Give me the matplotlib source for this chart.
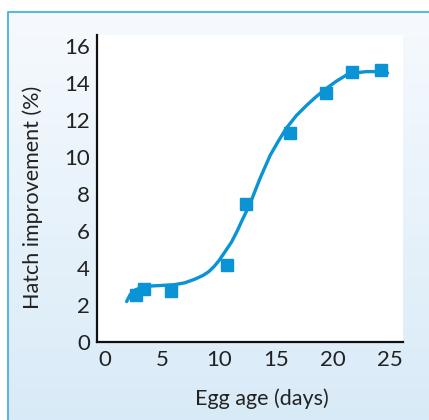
import numpy as np
import matplotlib.pyplot as plt

# measured points (egg age in days, hatch improvement in %)
edad = [2.7, 3.4, 5.8, 10.7, 12.4, 16.2, 19.4, 21.7, 24.2]
mejora = [2.55, 2.84, 2.78, 4.14, 7.45, 11.3, 13.47, 14.6, 14.7]

# fitted curve
curva_x = [1.9, 2.2, 2.6, 3.2, 3.8, 5.0, 6.1, 7.0, 7.9, 8.6, 9.1, 9.6, 10.0, 10.5,
           11.1, 11.6, 12.1, 12.6, 13.0, 13.6, 14.5, 15.2, 15.9, 16.8, 17.7, 18.5,
           19.4, 20.3, 21.2, 22.0, 22.9, 23.8, 24.8]
curva_y = [2.19, 2.55, 2.8, 2.95, 3.02, 3.06, 3.1, 3.2, 3.4, 3.6, 3.8, 4.1, 4.4, 4.85,
           5.4, 6.0, 6.67, 7.3, 7.9, 8.84, 10.1, 10.85, 11.55, 12.25, 12.8, 13.25,
           13.7, 14.1, 14.44, 14.55, 14.62, 14.62, 14.55]

xticks = [0, 5, 10, 15, 20, 25]
yticks = [0, 2, 4, 6, 8, 10, 12, 14, 16]

azul = '#0a93d5'
plt.rcParams['font.family'] = ['Lato', 'DejaVu Sans']

fig = plt.figure(figsize=(4.29, 4.2), dpi=100)

# fondo degradado del panel
W, H = 429, 420
fondo = fig.add_axes([0, 0, 1, 1], zorder=-10)
grad = np.linspace(0, 1, 256).reshape(-1, 1)
c_top = np.array([0.965, 0.98, 0.995])
c_bot = np.array([0.85, 0.92, 0.97])
img = c_top + (c_bot - c_top) * grad[:, :, None] * np.ones((1, 2, 1))
x0 = 8 / W
fondo.imshow(img, extent=[x0, 1, 0, 1 - 12 / H], aspect='auto', origin='upper')
fondo.plot([x0, x0, 1], [0, 1 - 12 / H, 1 - 12 / H], color='#5cb6e4', lw=1.5)
fondo.set_xlim(0, 1)
fondo.set_ylim(0, 1)
fondo.axis('off')

ax = fig.add_axes([97 / W, 1 - 342 / H, (403 - 97) / W, (342 - 35) / H])
ax.set_facecolor('white')

ax.plot(curva_x, curva_y, color=azul, lw=2.4, solid_capstyle='round', zorder=2)
ax.plot(edad, mejora, 's', color=azul, ms=9, zorder=3)

ax.set_xlim(-0.7, 26.15)
ax.set_ylim(0, 16.6)
ax.set_xticks(xticks)
ax.set_yticks(yticks)
ax.tick_params(length=0, labelsize=16, colors='#222222')
ax.tick_params(axis='x', pad=6)
ax.tick_params(axis='y', pad=5)
for s in ['top', 'right']:
    ax.spines[s].set_visible(False)
for s in ['left', 'bottom']:
    ax.spines[s].set_linewidth(1.6)
    ax.spines[s].set_color('#111111')

ax.set_xlabel('Egg age (days)', fontsize=15.5, color='#222222')
ax.set_ylabel('Hatch improvement (%)', fontsize=15.5, color='#222222')
ax.xaxis.set_label_coords(165 / 306, -46 / 307)
ax.yaxis.set_label_coords(-54 / 306, 145 / 307)

fig.savefig('out.png', dpi=100)
